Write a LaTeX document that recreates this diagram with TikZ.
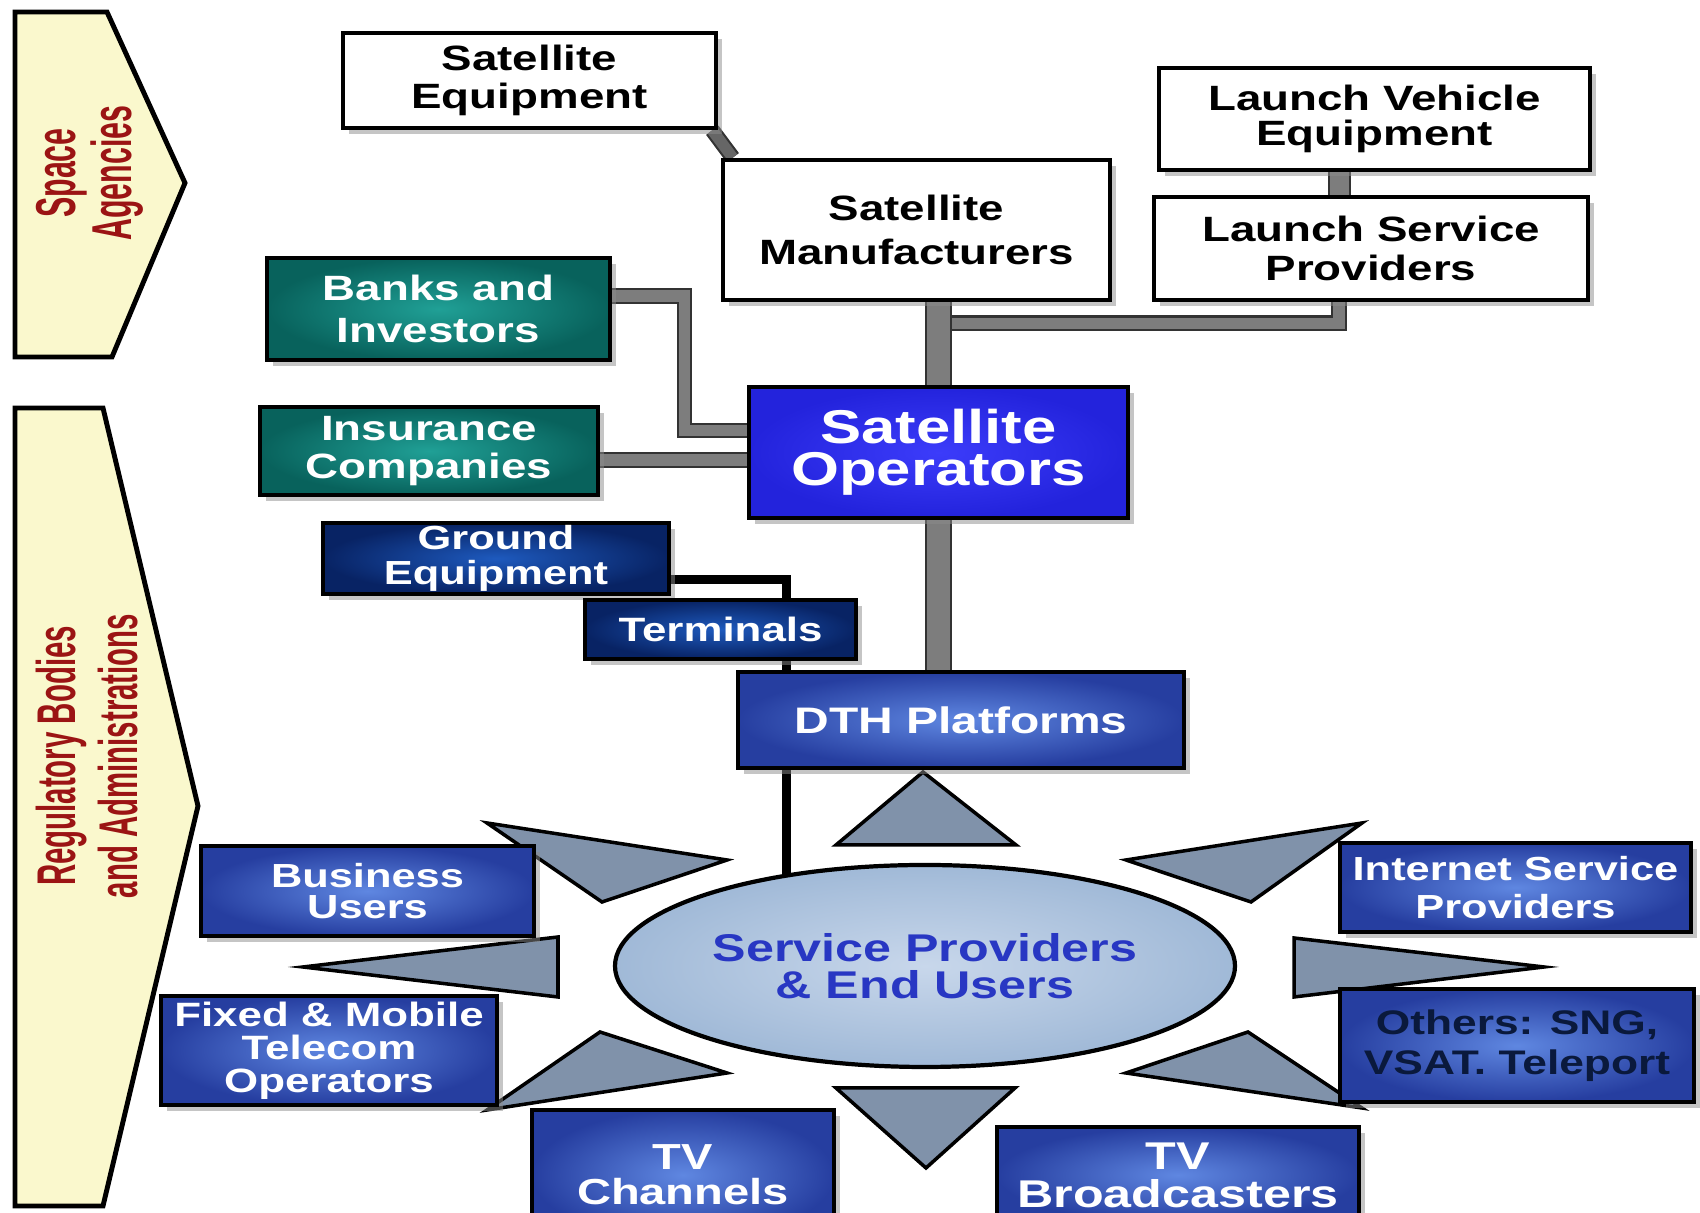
\documentclass[tikz,border=0pt]{standalone}
\usepackage{fontspec}
\setmainfont{Liberation Sans}
\newfontfamily\widefont[FakeStretch=1.3]{Liberation Sans}
\newfontfamily\narrowfont[FakeStretch=0.54]{Liberation Sans}
\usepackage{tikz}
\usetikzlibrary{calc, backgrounds, shadows, shapes.geometric}
\definecolor{bannerfill}{RGB}{250,248,205}
\definecolor{bannertext}{RGB}{155,20,20}
\definecolor{tealdark}{RGB}{8,98,92}
\definecolor{teallight}{RGB}{32,160,150}
\definecolor{navydark}{RGB}{8,35,100}
\definecolor{navylight}{RGB}{30,90,190}
\definecolor{opblue}{RGB}{35,35,220}
\definecolor{opbright}{RGB}{60,60,250}
\definecolor{midblue}{RGB}{38,62,160}
\definecolor{paleblue}{RGB}{95,135,225}
\definecolor{hubfill}{RGB}{160,185,215}
\definecolor{hublight}{RGB}{200,215,235}
\definecolor{hubtext}{RGB}{40,55,195}
\definecolor{spikefill}{RGB}{128,146,170}
\definecolor{pipegray}{RGB}{125,125,125}
\definecolor{othertext}{RGB}{10,25,60}
\newcommand{\boxfont}[2]{\widefont\bfseries\fontsize{#1}{#2}\selectfont}

\begin{document}
\begin{tikzpicture}[
  shade/.style={drop shadow={shadow xshift=1.6pt, shadow yshift=-1.6pt, fill=black!45}},
  wbox/.style={draw=black, line width=1.3pt, fill=white, align=center, inner sep=0pt,
               font=\boxfont{10}{11}, shade},
  tealbox/.style={draw=black, line width=1pt, inner color=teallight, outer color=tealdark,
                  text=white, align=center, inner sep=0pt, font=\boxfont{10}{12}, shade},
  navybox/.style={draw=black, line width=1pt, inner color=navylight, outer color=navydark,
                  text=white, align=center, inner sep=0pt, shade},
  opbox/.style={draw=black, line width=1pt, inner color=opbright, outer color=opblue,
                text=white, align=center, inner sep=0pt, font=\boxfont{13.5}{12}, shade},
  bluebox/.style={draw=black, line width=1pt, inner color=paleblue, outer color=midblue,
                  text=white, align=center, inner sep=0pt, shade},
  hub/.style={ellipse, draw=black, line width=1.2pt, inner color=hublight, outer color=hubfill,
              text=hubtext, align=center, inner sep=0pt, font=\boxfont{11}{10.5}},
  spike/.style={draw=black, line width=1pt, fill=spikefill, line join=miter},
  banner/.style={draw=black, line width=1.4pt, fill=bannerfill},
  pipe/.style={line width=0.6pt, draw=black!80, double=pipegray, double distance=#1},
  pipe/.default=3.2pt,
  wire/.style={line width=2.3pt, black}
]
\useasboundingbox (0,0) rectangle (17,12.13);
\clip (0,0) rectangle (17,12.13);

\draw[banner] (0.15,12.01) -- (1.07,12.01) -- (1.85,10.30) -- (1.12,8.56) -- (0.15,8.56) -- cycle;
\draw[banner] (0.15,8.05) -- (1.03,8.05) -- (1.98,4.07) -- (1.03,0.07) -- (0.15,0.07) -- cycle;
\node[rotate=90, text=bannertext, align=center,
      font=\narrowfont\bfseries\fontsize{16}{14}\selectfont] (space) at (0.90,10.40)
  {Space\\Agencies};
\node[rotate=90, text=bannertext, align=center,
      font=\narrowfont\bfseries\fontsize{15.5}{17.6}\selectfont] (regul) at (0.87,4.57)
  {Regulatory Bodies\\and Administrations};

\foreach \ax/\ay/\bx/\by/\cx/\cy in {9.23/4.41/8.36/3.68/10.16/3.68,
    8.36/1.25/10.15/1.25/9.26/0.45, 4.87/3.90/7.27/3.53/6.02/3.11,
    3.03/2.46/5.58/2.76/5.58/2.16, 4.87/1.03/6.00/1.81/7.27/1.40,
    13.62/3.90/11.26/3.53/12.51/3.11, 15.44/2.46/12.94/2.75/12.94/2.16,
    13.62/1.05/12.48/1.81/11.26/1.40}{
  \draw[spike] (\ax,\ay) -- (\bx,\by) -- (\cx,\cy) -- cycle;
}

\node[wbox, minimum width=3.73cm, minimum height=0.95cm] (seq) at (5.295,11.325)
  {Satellite\\Equipment};
\node[wbox, minimum width=3.87cm, minimum height=1.40cm, font=\boxfont{10}{12.5}] (smf)
  at (9.165,9.83) {Satellite\\Manufacturers};
\node[wbox, minimum width=4.31cm, minimum height=1.02cm, font=\boxfont{10}{10}] (lve)
  at (13.745,10.94) {Launch Vehicle\\Equipment};
\node[wbox, minimum width=4.34cm, minimum height=1.03cm] (lsp) at (13.71,9.645)
  {Launch Service\\Providers};
\node[tealbox, minimum width=3.43cm, minimum height=1.02cm] (bank) at (4.385,9.04)
  {Banks and\\Investors};
\node[tealbox, minimum width=3.38cm, minimum height=0.88cm, font=\boxfont{10}{11}] (ins)
  at (4.29,7.62) {Insurance\\Companies};
\node[opbox, minimum width=3.79cm, minimum height=1.31cm] (sop) at (9.385,7.605)
  {Satellite\\Operators};
\node[navybox, minimum width=3.46cm, minimum height=0.71cm, font=\boxfont{9.5}{10}] (gre)
  at (4.96,6.545) {Ground\\Equipment};
\node[navybox, minimum width=2.71cm, minimum height=0.59cm, font=\boxfont{9.6}{10}] (term)
  at (7.205,5.835) {Terminals};
\node[bluebox, minimum width=4.46cm, minimum height=0.96cm, font=\boxfont{10.5}{12}] (dth)
  at (9.61,4.93) {DTH Platforms};
\node[hub, minimum width=6.2cm, minimum height=2.02cm] (spu) at (9.25,2.47)
  {Service Providers\\\& End Users};
\node[bluebox, minimum width=3.33cm, minimum height=0.90cm, font=\boxfont{9.5}{9}] (bus)
  at (3.675,3.22) {Business\\Users};
\node[bluebox, minimum width=3.36cm, minimum height=1.09cm, font=\boxfont{9.6}{9.4}] (fmt)
  at (3.29,1.625) {Fixed \& Mobile\\Telecom\\Operators};
\node[bluebox, minimum width=3.02cm, minimum height=1.30cm, font=\boxfont{10.3}{10}] (tvc)
  at (6.83,0.38) {TV\\Channels};
\node[bluebox, minimum width=3.62cm, minimum height=0.96cm, font=\boxfont{11}{10.8}] (tvb)
  at (11.78,0.38) {TV\\Broadcasters};
\node[bluebox, minimum width=3.51cm, minimum height=0.89cm, font=\boxfont{9.5}{10.9}] (isp)
  at (15.155,3.255) {Internet Service\\Providers};
\node[bluebox, minimum width=3.54cm, minimum height=1.13cm, font=\boxfont{9.7}{11.4},
      text=othertext] (oth) at (15.17,1.675) {Others: SNG,\\VSAT. Teleport};

\begin{scope}[on background layer]
  \draw[pipe, double=black!60] ([xshift=-0.6mm]seq.south east) -- ([xshift=1.2mm]smf.north west);
  \draw[pipe=5.6pt] ([xshift=-3.5mm]lve.south) -- ([xshift=-3.5mm]lve.south |- lsp.north);
  \draw[pipe] ([xshift=-3.2mm]lsp.south) |- ($(sop.north)+(0,0.62)$);
  \draw[pipe=6.6pt] (sop.north |- smf.south) -- (sop.north);
  \draw[pipe=6.6pt] (sop.south) -- (sop.south |- dth.north);
  \draw[pipe] ([yshift=1.3mm]bank.east) -- ++(0.73,0) |- ([yshift=2.2mm]sop.west);
  \draw[pipe] ([yshift=-0.9mm]ins.east) -- ([yshift=-0.9mm]ins.east -| sop.west);
  \draw[wire] ([yshift=-2.1mm]gre.east) -| ([xshift=6.6mm]term.north);
  \draw[wire] ([xshift=6.6mm]term.south) -- ([xshift=6.6mm]term.south |- spu.center);
\end{scope}
\end{tikzpicture}
\end{document}
